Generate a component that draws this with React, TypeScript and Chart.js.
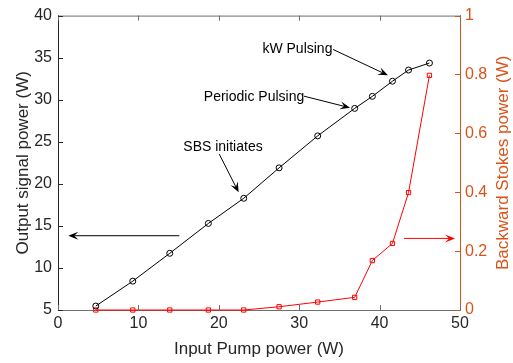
import React, { useEffect, useRef } from "react";
import { Chart, registerables } from "chart.js";

Chart.register(...registerables);

// ---- data ----
const pumpPower = [4.7, 9.3, 13.9, 18.7, 23.1, 27.5, 32.3, 36.9, 39.1, 41.6, 43.6, 46.2];
const signalPower = [5.47, 8.43, 11.74, 15.29, 18.28, 21.9, 25.7, 28.97, 30.4, 32.2, 33.53, 34.36];
const stokesPower = [0, 0, 0, 0, 0, 0.011, 0.027, 0.043, 0.168, 0.226, 0.399, 0.797];

const xTicks = [0, 10, 20, 30, 40, 50];
const yTicks = [5, 10, 15, 20, 25, 30, 35, 40];
const y1Ticks = [0, 0.2, 0.4, 0.6, 0.8, 1];

const xTitle = "Input Pump power (W)";
const yTitle = "Output signal power (W)";
const y1Title = "Backward Stokes power (W)";

// annotations in data coordinates (x, left-y)
const labelTexts = ["kW Pulsing", "Periodic Pulsing", "SBS initiates"];
const labelX = [29.78, 24.38, 20.52];
const labelY = [35.98, 30.34, 24.39];
const arrowFromX = [34.2, 30.6, 20.06, 15.09, 43.03];
const arrowFromY = [35.98, 30.42, 23.53, 13.83, 13.51];
const arrowToX = [41.04, 36.32, 22.47, 1.28, 49.38];
const arrowToY = [32.9, 29.04, 18.99, 13.83, 13.51];
const arrowColors = ["#000000", "#000000", "#000000", "#000000", "#ff0000"];

const ORANGE = "#D95319";
const AXIS = "#262626";
const FRAME = "#6e6e6e";
const FONT = "'Liberation Sans', Arial, Helvetica, sans-serif";

function drawArrow(ctx: CanvasRenderingContext2D, x0: number, y0: number, x1: number, y1: number, color: string) {
  const ang = Math.atan2(y1 - y0, x1 - x0);
  const L = 10;
  const W = 4;
  const notch = 6;
  ctx.save();
  ctx.strokeStyle = color;
  ctx.fillStyle = color;
  ctx.lineWidth = 1;
  ctx.beginPath();
  ctx.moveTo(x0, y0);
  ctx.lineTo(x1 - Math.cos(ang) * notch, y1 - Math.sin(ang) * notch);
  ctx.stroke();
  ctx.translate(x1, y1);
  ctx.rotate(ang);
  ctx.beginPath();
  ctx.moveTo(0, 0);
  ctx.lineTo(-L, -W);
  ctx.lineTo(-notch, 0);
  ctx.lineTo(-L, W);
  ctx.closePath();
  ctx.fill();
  ctx.restore();
}

const decorPlugin = {
  id: "decor",
  afterDraw(chart: any) {
    const ctx: CanvasRenderingContext2D = chart.ctx;
    const { left, right, top, bottom } = chart.chartArea;
    const xs = chart.scales.x;
    const ys = chart.scales.y;
    const y1s = chart.scales.y1;
    ctx.save();
    // top border
    ctx.strokeStyle = FRAME;
    ctx.lineWidth = 1;
    ctx.beginPath();
    ctx.moveTo(left, top + 0.5);
    ctx.lineTo(right, top + 0.5);
    ctx.stroke();
    // inward ticks
    const tl = 5;
    ctx.beginPath();
    xTicks.forEach((v) => {
      const px = Math.round(xs.getPixelForValue(v)) + 0.5;
      ctx.moveTo(px, bottom);
      ctx.lineTo(px, bottom - tl);
      ctx.moveTo(px, top);
      ctx.lineTo(px, top + tl);
    });
    ctx.stroke();
    ctx.strokeStyle = AXIS;
    ctx.beginPath();
    yTicks.forEach((v) => {
      const py = Math.round(ys.getPixelForValue(v)) + 0.5;
      ctx.moveTo(left, py);
      ctx.lineTo(left + tl, py);
    });
    ctx.stroke();
    ctx.strokeStyle = ORANGE;
    ctx.beginPath();
    y1Ticks.forEach((v) => {
      const py = Math.round(y1s.getPixelForValue(v)) + 0.5;
      ctx.moveTo(right, py);
      ctx.lineTo(right - tl, py);
    });
    ctx.stroke();

    // axis titles
    ctx.font = `17px ${FONT}`;
    ctx.textAlign = "center";
    ctx.textBaseline = "middle";
    ctx.fillStyle = AXIS;
    ctx.fillText(xTitle, (left + right) / 2, 349);
    ctx.save();
    ctx.translate(23, (top + bottom) / 2);
    ctx.rotate(-Math.PI / 2);
    ctx.fillText(yTitle, 0, 0);
    ctx.restore();
    ctx.save();
    ctx.fillStyle = ORANGE;
    ctx.translate(503, (top + bottom) / 2);
    ctx.rotate(-Math.PI / 2);
    ctx.fillText(y1Title, 0, 0);
    ctx.restore();

    // annotations
    ctx.font = `14px ${FONT}`;
    ctx.fillStyle = "#000000";
    labelTexts.forEach((t, i) => {
      ctx.fillText(t, xs.getPixelForValue(labelX[i]), ys.getPixelForValue(labelY[i]));
    });
    arrowFromX.forEach((_, i) => {
      drawArrow(
        ctx,
        xs.getPixelForValue(arrowFromX[i]),
        ys.getPixelForValue(arrowFromY[i]),
        xs.getPixelForValue(arrowToX[i]),
        ys.getPixelForValue(arrowToY[i]),
        arrowColors[i]
      );
    });
    ctx.restore();
  },
};

export default function App() {
  const ref = useRef<HTMLCanvasElement | null>(null);
  useEffect(() => {
    if (!ref.current) return;
    const chart = new Chart(ref.current, {
      type: "line",
      data: {
        datasets: [
          {
            label: "Output signal power",
            data: pumpPower.map((x, i) => ({ x, y: signalPower[i] })),
            yAxisID: "y",
            borderColor: "#000000",
            backgroundColor: "rgba(0,0,0,0)",
            borderWidth: 1,
            pointStyle: "circle",
            pointRadius: 3,
            pointBorderWidth: 1,
            pointBorderColor: "#000000",
            pointBackgroundColor: "rgba(0,0,0,0)",
            clip: false,
          },
          {
            label: "Backward Stokes power",
            data: pumpPower.map((x, i) => ({ x, y: stokesPower[i] })),
            yAxisID: "y1",
            borderColor: "#ff0000",
            backgroundColor: "rgba(0,0,0,0)",
            borderWidth: 1,
            pointStyle: "rect",
            pointRadius: 3,
            pointBorderWidth: 1,
            pointBorderColor: "#ff0000",
            pointBackgroundColor: "rgba(0,0,0,0)",
            clip: false,
          },
        ],
      },
      options: {
        animation: false,
        responsive: false,
        devicePixelRatio: 1,
        layout: { padding: { top: 14, left: 0, right: 0, bottom: 0 } },
        plugins: { legend: { display: false }, tooltip: { enabled: false } },
        scales: {
          x: {
            type: "linear",
            position: "bottom",
            min: 0,
            max: 50,
            afterBuildTicks: (s: any) => {
              s.ticks = xTicks.map((v) => ({ value: v }));
            },
            afterFit: (s: any) => {
              s.height = 53;
            },
            grid: { display: false, drawTicks: false },
            border: { display: true, color: FRAME, width: 1 },
            ticks: { color: AXIS, font: { family: FONT, size: 16 }, padding: 4, maxRotation: 0 },
          },
          y: {
            type: "linear",
            position: "left",
            min: 5,
            max: 40,
            afterBuildTicks: (s: any) => {
              s.ticks = yTicks.map((v) => ({ value: v }));
            },
            afterFit: (s: any) => {
              s.width = 58;
            },
            grid: { display: false, drawTicks: false },
            border: { display: true, color: AXIS, width: 1 },
            ticks: { color: AXIS, font: { family: FONT, size: 16 }, padding: 6 },
          },
          y1: {
            type: "linear",
            position: "right",
            min: 0,
            max: 1,
            afterBuildTicks: (s: any) => {
              s.ticks = y1Ticks.map((v) => ({ value: v }));
            },
            afterFit: (s: any) => {
              s.width = 53;
            },
            grid: { display: false, drawTicks: false },
            border: { display: true, color: ORANGE, width: 1 },
            ticks: {
              color: ORANGE,
              font: { family: FONT, size: 16 },
              padding: 5,
              callback: (v: any) => String(Math.round(Number(v) * 10) / 10),
            },
          },
        },
      },
      plugins: [decorPlugin],
    } as any);
    return () => chart.destroy();
  }, []);
  return (
    <div style={{ position: "absolute", left: 0, top: 0, width: 513, height: 363, background: "#ffffff" }}>
      <canvas ref={ref} width={513} height={363} style={{ width: 513, height: 363, display: "block" }} />
    </div>
  );
}
